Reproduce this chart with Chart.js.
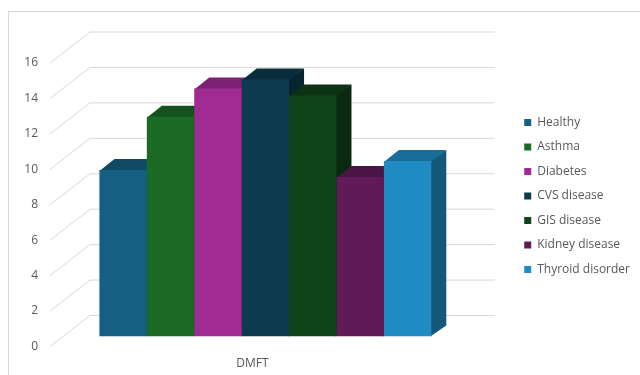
<!DOCTYPE html>
<html>
<head>
<meta charset="utf-8">
<script src="https://cdn.jsdelivr.net/npm/chart.js@4.4.1/dist/chart.umd.min.js"></script>
<style>
  html, body { margin: 0; padding: 0; background: #fff; }
  #wrap { width: 640px; height: 375px; position: relative; }
</style>
</head>
<body>
<div id="wrap"><canvas id="chart"></canvas></div>
<script>
// --- data ---------------------------------------------------------
const categories = ['DMFT'];
const groups = ['Healthy', 'Asthma', 'Diabetes', 'CVS disease', 'GIS disease', 'Kidney disease', 'Thyroid disorder'];
const dmftValues = [9.4, 12.4, 14.0, 14.5, 13.6, 9.0, 9.9];
const yMin = 0;
const yMax = 16;
const yStep = 2;

const frontColors = ['#156082', '#1B6B26', '#A02B93', '#0D3A4E', '#0F4319', '#5F1A57', '#1F8DC3'];

const GRID = '#d9d9d9';
const TEXT = '#595959';
const FONT = "'Open Sans', 'Liberation Sans', Arial, sans-serif";

// oblique projection offsets (bar plane -> front / back of floor)
const FRONT = { dx: -13, dy: 10 };
const BACK = { dx: 27, dy: -21 };
const BAR_DEPTH = { dx: 15, dy: -11 };

function shade(hex, f) {
  const n = parseInt(hex.slice(1), 16);
  const r = Math.round(((n >> 16) & 255) * f);
  const g = Math.round(((n >> 8) & 255) * f);
  const b = Math.round((n & 255) * f);
  return `rgb(${r},${g},${b})`;
}

function poly(ctx, pts, fill) {
  ctx.beginPath();
  ctx.moveTo(pts[0][0], pts[0][1]);
  for (let i = 1; i < pts.length; i++) ctx.lineTo(pts[i][0], pts[i][1]);
  ctx.closePath();
  ctx.fillStyle = fill;
  ctx.fill();
}

// --- 3D walls and bar sides ---------------------------------------
const box3d = {
  id: 'box3d',
  beforeDraw(chart) {
    const ctx = chart.ctx;
    ctx.save();
    ctx.fillStyle = '#fff';
    ctx.fillRect(0, 0, chart.width, chart.height);
    ctx.strokeStyle = GRID;
    ctx.lineWidth = 1;
    ctx.strokeRect(8.5, 11.5, chart.width + 20, chart.height + 20);
    ctx.restore();
  },
  beforeDatasetsDraw(chart) {
    const ctx = chart.ctx;
    const { left, right } = chart.chartArea;
    const ys = chart.scales.y;
    ctx.save();
    ctx.strokeStyle = GRID;
    ctx.lineWidth = 1;
    ys.ticks.forEach(t => {
      const yp = ys.getPixelForValue(t.value);
      ctx.beginPath();
      ctx.moveTo(left + FRONT.dx, yp + FRONT.dy);
      ctx.lineTo(left + BACK.dx, yp + BACK.dy);
      ctx.lineTo(right + BACK.dx, yp + BACK.dy);
      ctx.stroke();
    });

    // sides and tops, left to right; the fronts are drawn by Chart.js on top
    chart.data.datasets.forEach((ds, i) => {
      const meta = chart.getDatasetMeta(i);
      meta.data.forEach(bar => {
        const { x, y, base, width } = bar.getProps(['x', 'y', 'base', 'width'], true);
        const xl = x - width / 2;
        const xr = x + width / 2;
        const c = frontColors[i];
        poly(ctx, [[xr - 1, base], [xr + BAR_DEPTH.dx, base + BAR_DEPTH.dy],
                   [xr + BAR_DEPTH.dx, y + BAR_DEPTH.dy], [xr - 1, y]], shade(c, 0.62));
        poly(ctx, [[xl, y + 1], [xl + BAR_DEPTH.dx, y + BAR_DEPTH.dy],
                   [xr + BAR_DEPTH.dx, y + BAR_DEPTH.dy], [xr, y + 1]], shade(c, 0.78));
      });
    });
    ctx.restore();
  }
};

const datasets = groups.map((g, i) => ({
  label: g,
  data: [dmftValues[i]],
  backgroundColor: frontColors[i],
  borderWidth: 0,
  categoryPercentage: 0.82,
  barPercentage: 1.0,
}));

new Chart(document.getElementById('chart'), {
  type: 'bar',
  data: { labels: categories, datasets },
  plugins: [box3d],
  options: {
    responsive: true,
    maintainAspectRatio: false,
    animation: false,
    layout: { padding: { top: 53, right: 0, bottom: 0, left: 0 } },
    plugins: {
      tooltip: { enabled: false },
      legend: {
        position: 'right',
        align: 'start',
        maxWidth: 200,
        // empty title only pushes the entries down
        title: { display: true, text: ' ', font: { size: 10 }, padding: { top: 39, bottom: 0 } },
        labels: {
          color: TEXT,
          font: { family: FONT, size: 12 },
          boxWidth: 7,
          boxHeight: 7,
          padding: 12.5,
        }
      }
    },
    scales: {
      x: {
        grid: { display: false, drawTicks: false },
        border: { display: false },
        ticks: { color: TEXT, font: { family: FONT, size: 12 }, padding: 20, labelOffset: -13 },
        afterFit: s => { s.height = 38.5; }
      },
      y: {
        min: yMin, max: yMax,
        grid: { display: false, drawTicks: false },
        border: { display: false },
        ticks: { stepSize: yStep, color: TEXT, font: { family: FONT, size: 12 }, padding: 25, labelOffset: 10 },
        afterFit: s => { s.width = 63; }
      },
      yRight: {
        type: 'linear',
        position: 'right',
        grid: { display: false, drawTicks: false },
        border: { display: false },
        ticks: { display: false },
        afterFit: s => { s.width = 44; }
      }
    }
  }
});
</script>
</body>
</html>
